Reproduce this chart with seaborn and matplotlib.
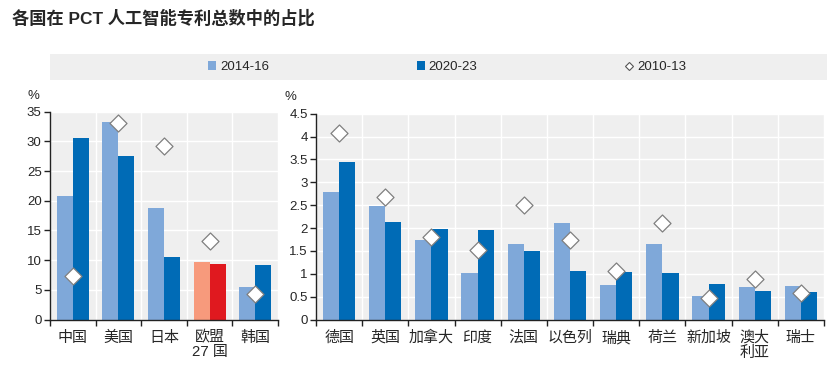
import matplotlib
matplotlib.use("Agg")
import matplotlib.pyplot as plt
import seaborn as sns
import pandas as pd
import numpy as np
from matplotlib.patches import Patch, Rectangle
from matplotlib.lines import Line2D

sns.set_theme(style="white")
plt.rcParams['font.family'] = ['Liberation Sans', 'Noto Sans CJK SC', 'DejaVu Sans']

title = "各国在 PCT 人工智能专利总数中的占比"
periods = ["2014-16", "2020-23"]
marker_label = "2010-13"

left_cats = ["中国", "美国", "日本", "欧盟\n27 国", "韩国"]
left_1416 = [20.8, 33.2, 18.7, 9.7, 5.5]
left_2023 = [30.6, 27.6, 10.5, 9.4, 9.1]
left_1013 = [7.4, 33.1, 29.2, 13.3, 4.3]

right_cats = ["德国", "英国", "加拿大", "印度", "法国", "以色列", "瑞典", "荷兰", "新加坡", "澳大\n利亚", "瑞士"]
right_1416 = [2.78, 2.48, 1.74, 1.01, 1.66, 2.11, 0.76, 1.66, 0.52, 0.70, 0.73]
right_2023 = [3.45, 2.14, 1.97, 1.95, 1.50, 1.07, 1.03, 1.01, 0.78, 0.63, 0.60]
right_1013 = [4.08, 2.68, 1.80, 1.53, 2.51, 1.74, 1.07, 2.11, 0.46, 0.88, 0.58]

light_blue = "#7FA8D9"
dark_blue = "#006BB6"
eu_light = "#F79A7C"
eu_dark = "#E0191F"
bg = "#EFEFEF"

fig = plt.figure(figsize=(8.32, 3.74), dpi=100)

# legend band
fig.patches.append(Rectangle((50/832, 1-80/374), (827-50)/832, 26/374,
                             transform=fig.transFigure, facecolor=bg, edgecolor="none", zorder=0))

ax1 = fig.add_axes([50/832, 1-319.5/374, 228/832, (319.5-111.7)/374])
ax2 = fig.add_axes([316/832, 1-319.5/374, 508/832, (319.5-113.7)/374])


def draw(ax, cats, a, b, c, ymax, step, eu_idx=None):
    df = pd.DataFrame({
        "country": cats * 2,
        "period": [periods[0]] * len(cats) + [periods[1]] * len(cats),
        "value": a + b,
    })
    sns.barplot(data=df, x="country", y="value", hue="period", order=cats,
                hue_order=periods, palette=[light_blue, dark_blue], width=0.7,
                saturation=1, ax=ax, legend=False, zorder=2, edgecolor="none")
    if eu_idx is not None:
        bars = [p for p in ax.patches]
        n = len(cats)
        bars[eu_idx].set_facecolor(eu_light)
        bars[n + eu_idx].set_facecolor(eu_dark)
    ax.scatter(np.arange(len(cats)), c, marker="D", s=75, facecolor="white",
               edgecolor="#7F7F7F", linewidth=0.9, zorder=4)
    ax.set_facecolor(bg)
    ax.set_xlim(-0.5, len(cats) - 0.5)
    ax.set_ylim(0, ymax)
    ax.set_yticks(np.arange(0, ymax + step / 2, step))
    ax.set_yticklabels([f"{v:g}" for v in np.arange(0, ymax + step / 2, step)], fontsize=9.5)
    ax.set_xticks(np.arange(len(cats)))
    ax.set_xticklabels(cats, fontsize=10.8, linespacing=1.05)
    ax.set_xticks(np.arange(len(cats) + 1) - 0.5, minor=True)
    ax.tick_params(axis="x", which="major", length=0, pad=8)
    ax.tick_params(axis="x", which="minor", length=4, width=1, color="#222222", direction="out", bottom=True)
    ax.tick_params(axis="y", length=4, width=1, color="#222222", direction="out", left=True, pad=2)
    ax.grid(axis="y", color="white", linewidth=1, zorder=1)
    ax.grid(axis="x", which="minor", color="white", linewidth=1, zorder=1)
    ax.grid(axis="x", which="major", visible=False)
    ax.set_axisbelow(True)
    for s in ["top", "right"]:
        ax.spines[s].set_visible(False)
    for s in ["left", "bottom"]:
        ax.spines[s].set_color("#222222")
        ax.spines[s].set_linewidth(1)
    ax.set_xlabel("")
    ax.set_ylabel("")


draw(ax1, left_cats, left_1416, left_2023, left_1013, 35, 5, eu_idx=3)
draw(ax2, right_cats, right_1416, right_2023, right_1013, 4.5, 0.5)

fig.text(33/832, 1-96/374, "%", fontsize=9.5, ha="center", va="center")
fig.text(290/832, 1-97/374, "%", fontsize=9.5, ha="center", va="center")

fig.text(12/832, 1-18/374, title, fontsize=12.4, fontweight="bold", ha="left", va="center")

handles = [
    Patch(facecolor=light_blue, edgecolor="none"),
    Patch(facecolor=dark_blue, edgecolor="none"),
    Line2D([], [], marker="D", linestyle="none", markerfacecolor="white",
           markeredgecolor="#555555", markersize=4.5, markeredgewidth=0.8),
]
fig.legend(handles, periods + [marker_label], loc="center", ncol=3,
           bbox_to_anchor=(447/832, 1-67/374), frameon=False,
           handlelength=0.6, handleheight=0.6, handletextpad=0.3,
           columnspacing=11.2, prop={"family": ["Liberation Sans Narrow", "Liberation Sans"], "size": 9.5})

fig.savefig("out.png", dpi=100)
